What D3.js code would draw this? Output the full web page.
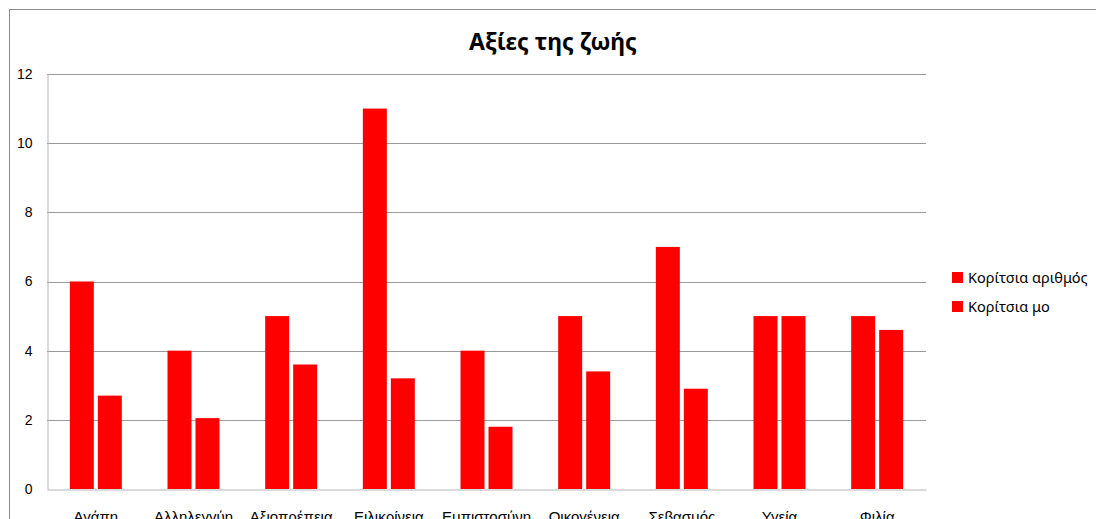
<!DOCTYPE html>
<html>
<head>
<meta charset="utf-8">
<script src="https://cdn.jsdelivr.net/npm/d3@7"></script>
<style>
  body { margin: 0; background: #fff; }
  svg { display: block; font-family: "Noto Sans", "Open Sans", sans-serif; }
</style>
</head>
<body>
<svg id="chart" width="1096" height="519"></svg>
<script>
let categories = ["Αγάπη", "Αλληλεγγύη", "Αξιοπρέπεια", "Ειλικρίνεια", "Εμπιστοσύνη", "Οικογένεια", "Σεβασμός", "Υγεία", "Φιλία"]
let seriesNames = ["Κορίτσια αριθμός", "Κορίτσια μο"]
let girlsCount = [6, 4, 5, 11, 4, 5, 7, 5, 5]
let girlsMean = [2.7, 2.05, 3.6, 3.2, 1.8, 3.4, 2.9, 5, 4.6]
let yTicks = [0, 2, 4, 6, 8, 10, 12]

let svg = d3.select("#chart")
let margin = {left: 47, right: 926, top: 74, bottom: 489}

// outer chart frame
svg.append("rect")
   .attr("x", 9.5).attr("y", 9.5)
   .attr("width", 1200).attr("height", 600)
   .attr("fill", "none")
   .attr("stroke", "#8c8c8c")
   .attr("stroke-width", 1)

let x = d3.scaleBand()
          .domain(categories)
          .range([margin.left, margin.right])

let x1 = d3.scaleBand()
           .domain(seriesNames)
           .range([0, x.bandwidth()])
           .paddingInner(0.143)
           .paddingOuter(0.816)

let y = d3.scaleLinear()
          .domain([0, 12])
          .range([margin.bottom, margin.top])

// gridlines
svg.append("g")
   .selectAll("line")
   .data(yTicks.slice(1))
   .enter()
   .append("line")
   .attr("x1", margin.left)
   .attr("x2", margin.right)
   .attr("y1", (d) => Math.round(y(d)) + 0.5)
   .attr("y2", (d) => Math.round(y(d)) + 0.5)
   .attr("stroke", "#9a9a9a")
   .attr("stroke-width", 1)

// y axis
let yAxis = svg.append("g")
               .attr("transform", `translate(${margin.left + 0.5}, 0)`)
               .call(d3.axisLeft(y).tickValues(yTicks).tickSize(0).tickPadding(15))
yAxis.select(".domain").attr("stroke", "#b5b5b5")
yAxis.selectAll("text")
     .style("font-size", "14px")
     .attr("fill", "#000")

// bars
let rows = categories.map((c, i) => ({cat: c, values: [girlsCount[i], girlsMean[i]]}))

let groups = svg.selectAll(".group")
                .data(rows)
                .enter()
                .append("g")
                .attr("class", "group")
                .attr("transform", (d) => `translate(${x(d.cat)}, 0)`)

groups.selectAll("rect")
      .data((d) => d.values.map((v, j) => ({series: seriesNames[j], value: v})))
      .enter()
      .append("rect")
      .attr("x", (d) => x1(d.series))
      .attr("width", x1.bandwidth())
      .attr("y", (d) => y(d.value))
      .attr("height", (d) => y(0) - y(d.value))
      .attr("fill", "#ff0000")

// x axis
let xAxis = svg.append("g")
               .attr("transform", `translate(0, ${margin.bottom + 0.5})`)
               .call(d3.axisBottom(x).tickSize(0).tickPadding(22))
xAxis.select(".domain").attr("stroke", "#b5b5b5")
xAxis.selectAll("text")
     .style("font-size", "15px")
     .attr("fill", "#000")

// title
svg.append("text")
   .attr("x", 553)
   .attr("y", 50)
   .attr("text-anchor", "middle")
   .style("font-size", "23px")
   .style("font-weight", "bold")
   .text("Αξίες της ζωής")

// legend
let legend = svg.append("g")
                .selectAll("g")
                .data(seriesNames)
                .enter()
                .append("g")
                .attr("transform", (d, i) => `translate(952, ${272 + i * 29})`)

legend.append("rect")
      .attr("width", 11)
      .attr("height", 11)
      .attr("fill", "#ff0000")

legend.append("text")
      .attr("x", 16)
      .attr("y", 11)
      .style("font-size", "14.5px")
      .text((d) => d)
</script>
</body>
</html>
